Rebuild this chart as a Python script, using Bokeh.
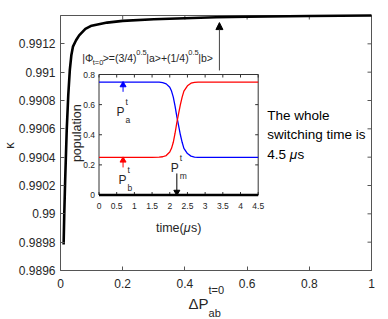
import numpy as np
from bokeh.plotting import figure
from bokeh.models import Range1d, Arrow, NormalHead, FixedTicker
from bokeh.embed import file_html
from bokeh.resources import INLINE
from bokeh.core.properties import value

# ---------------- data: main curve ----------------
delta_p = [0.01, 0.012, 0.015, 0.02, 0.025, 0.03, 0.035, 0.04, 0.05, 0.06,
           0.08, 0.1, 0.15, 0.2, 0.3, 0.4, 0.5, 0.6, 0.8, 1.0]
kappa = [0.989784, 0.989989, 0.990237, 0.990591, 0.990839, 0.991016, 0.991122,
         0.991180, 0.991225, 0.991260, 0.991305, 0.991328, 0.991350, 0.991362,
         0.991374, 0.991381, 0.991388, 0.991391, 0.991397, 0.991400]
x_ticks = [0, 0.2, 0.4, 0.6, 0.8, 1]
x_tick_labels = ["0", "0.2", "0.4", "0.6", "0.8", "1"]
y_ticks = [0.9896, 0.9898, 0.99, 0.9902, 0.9904, 0.9906, 0.9908, 0.991, 0.9912]
y_tick_labels = ["0.9896", "0.9898", "0.99", "0.9902", "0.9904", "0.9906",
                 "0.9908", "0.991", "0.9912"]
X_LIM = (0, 1)
Y_LIM = (0.9896, 0.9914)

# ---------------- data: inset ----------------
time_us = [0, 0.5, 1.0, 1.5, 1.7, 1.8, 1.9, 2.0, 2.05, 2.1, 2.15, 2.2, 2.25,
           2.3, 2.35, 2.4, 2.5, 2.6, 2.7, 2.8, 3.0, 3.5, 4.0, 4.5]
pop_a = [0.75, 0.75, 0.75, 0.75, 0.749, 0.746, 0.738, 0.715, 0.69, 0.65, 0.59,
         0.52, 0.46, 0.40, 0.35, 0.31, 0.275, 0.258, 0.252, 0.25, 0.25, 0.25,
         0.25, 0.25]
pop_b = [0.25, 0.25, 0.25, 0.25, 0.251, 0.254, 0.262, 0.285, 0.31, 0.35, 0.41,
         0.48, 0.54, 0.60, 0.65, 0.69, 0.725, 0.742, 0.748, 0.75, 0.75, 0.75,
         0.75, 0.75]
pop_m = [0.0] * len(time_us)
t_ticks = [0, 0.5, 1, 1.5, 2, 2.5, 3, 3.5, 4, 4.5]
t_tick_labels = ["0", "0.5", "1", "1.5", "2", "2.5", "3", "3.5", "4", "4.5"]
p_ticks = [0, 0.2, 0.4, 0.6, 0.8]
p_tick_labels = ["0", "0.2", "0.4", "0.6", "0.8"]

FONT = value("Liberation Sans")
TXT = "#262626"
AX = "#555555"

# canvas 388x319; the axes box spans pixels 60..371 (x) and 15..270 (y)
W, H = 388, 319
BOX_L, BOX_R, BOX_T, BOX_B = 60, 371, 15, 270
sx = (X_LIM[1] - X_LIM[0]) / (BOX_R - BOX_L)
sy = (Y_LIM[1] - Y_LIM[0]) / (BOX_B - BOX_T)
x_rng = Range1d(X_LIM[0] - BOX_L * sx, X_LIM[1] + (W - BOX_R) * sx)
y_rng = Range1d(Y_LIM[0] - (H - BOX_B) * sy, Y_LIM[1] + BOX_T * sy)

p = figure(width=W, height=H, x_range=x_rng, y_range=y_rng,
           output_backend="svg", toolbar_location=None,
           min_border=0, min_border_left=0, min_border_right=0,
           min_border_top=0, min_border_bottom=0)
p.grid.visible = False
p.outline_line_color = None
p.background_fill_color = "white"
p.border_fill_color = "white"

def style_axis(ax, ticks, labels, loc, bounds):
    ax.fixed_location = loc
    ax.bounds = bounds
    ax.ticker = FixedTicker(ticks=ticks)
    ax.major_label_overrides = {t: l for t, l in zip(ticks, labels)}
    ax.major_tick_in = 4
    ax.major_tick_out = 0
    ax.minor_tick_in = 0
    ax.minor_tick_out = 0
    ax.axis_line_color = AX
    ax.major_tick_line_color = AX
    ax.major_label_text_font = "Liberation Sans"
    ax.major_label_text_color = TXT
    ax.major_label_text_font_size = "12px"

style_axis(p.xaxis[0], x_ticks, x_tick_labels, Y_LIM[0], X_LIM)
p.xaxis[0].major_label_standoff = 8
style_axis(p.yaxis[0], y_ticks, y_tick_labels, X_LIM[0], Y_LIM)
p.yaxis[0].major_label_standoff = 5

# top and right edges of the box, with inward ticks
p.segment(x0=[X_LIM[0], X_LIM[1]], y0=[Y_LIM[1], Y_LIM[0]],
          x1=[X_LIM[1], X_LIM[1]], y1=[Y_LIM[1], Y_LIM[1]],
          line_color=AX, line_width=1)
nx, ny = len(x_ticks), len(y_ticks)
p.ray(x=x_ticks, y=[Y_LIM[1]] * nx, length=4, length_units="screen",
      angle=-np.pi / 2, line_color=AX, line_width=1)
p.ray(x=[X_LIM[1]] * ny, y=y_ticks, length=4, length_units="screen",
      angle=np.pi, line_color=AX, line_width=1)

# main curve
p.line(delta_p, kappa, line_color="black", line_width=2.6)

# axis labels (glyph text placed relative to the box)
p.text(x=[-51 * sx], y=[0.990482], text=["κ"], angle=np.pi / 2,
       text_align="center", text_baseline="middle", text_font=FONT,
       text_font_size="13px", text_color=TXT)
xl_x = 0.4116
p.text(x=[xl_x] * 3, y=[Y_LIM[0]] * 3, text=["ΔP", "t=0", "ab"],
       x_offset=[0, 20, 20], y_offset=[33, 19, 42],
       text_font_size=["15px", "11px", "11px"], text_align="left",
       text_baseline="alphabetic", text_font=FONT, text_color=TXT)

# state annotation
ann_parts = ["|Φ", "t=0", ">=(3/4)", "0.5", "|a>+(1/4)", "0.5", "|b>"]
ann_dx = [0, 10.5, 20.5, 54, 64, 106, 116]
ann_dy = [0, 4, 0, -6, 0, -6, 0]
ann_size = ["10.5px", "7.5px", "10.5px", "7.5px", "10.5px", "7.5px", "10.5px"]
p.text(x=[0.0698] * 7, y=[0.991097] * 7, text=ann_parts, x_offset=ann_dx,
       y_offset=ann_dy, text_font_size=ann_size, text_font=FONT,
       text_color=TXT, text_align="left", text_baseline="alphabetic")
p.add_layout(Arrow(end=NormalHead(size=7, fill_color="black", line_color="black"),
                   x_start=0.511, y_start=0.991012, x_end=0.511, y_end=0.991350,
                   line_color="#444444", line_width=1))

# switching time note (μ in italics, as in the original)
note = ["The whole", "switching time is", "4.5 ", "μ", "s"]
note_dx = [0, 0, 0, 22.5, 30.3]
note_dy = [0, 19.3, 38.6, 38.6, 38.6]
note_style = ["normal", "normal", "normal", "italic", "normal"]
p.text(x=[0.665] * 5, y=[0.990694] * 5, text=note, x_offset=note_dx,
       y_offset=note_dy, text_font_style=note_style,
       text_font=FONT, text_font_size="13.5px", text_color="black",
       text_align="left", text_baseline="alphabetic")

# ---------------- inset ----------------
tx_rng = Range1d(0, 4.5)
py_rng = Range1d(0, 0.8)
ins = p.subplot(x_source=tx_rng, y_source=py_rng,
                x_target=Range1d(0.1238, 0.6357),
                y_target=Range1d(0.9901329, 0.9909835))
ins.quad(left=[tx_rng.start], right=[tx_rng.end], bottom=[py_rng.start],
         top=[py_rng.end], fill_color="white", line_color="#333333",
         line_width=1)
nT, nP = len(t_ticks), len(p_ticks)
ins.ray(x=t_ticks, y=[py_rng.start] * nT, length=3, length_units="screen",
        angle=np.pi / 2, line_color="#333333", line_width=1)
ins.ray(x=t_ticks, y=[py_rng.end] * nT, length=3, length_units="screen",
        angle=-np.pi / 2, line_color="#333333", line_width=1)
ins.ray(x=[tx_rng.start] * nP, y=p_ticks, length=3, length_units="screen",
        angle=0, line_color="#333333", line_width=1)
ins.ray(x=[tx_rng.end] * nP, y=p_ticks, length=3, length_units="screen",
        angle=np.pi, line_color="#333333", line_width=1)
ins.text(x=t_ticks, y=[py_rng.start] * nT, text=t_tick_labels, y_offset=8,
         text_align="center", text_baseline="top", text_font=FONT,
         text_font_size="8.5px", text_color=TXT)
ins.text(x=[tx_rng.start] * nP, y=p_ticks, text=p_tick_labels, x_offset=-4,
         text_align="right", text_baseline="middle", text_font=FONT,
         text_font_size="8.5px", text_color=TXT)
xlab = ["time(", "μ", "s)"]
ins.text(x=[2.25] * 3, y=[0] * 3, text=xlab, x_offset=[-22.7, 5.1, 12.3],
         y_offset=33, text_font_style=["normal", "italic", "normal"],
         text_align="left", text_baseline="alphabetic", text_font=FONT,
         text_font_size="12.5px", text_color=TXT)
ins.text(x=[0], y=[0.41], text=["population"], x_offset=-22, angle=np.pi / 2,
         text_align="center", text_baseline="middle", text_font=FONT,
         text_font_size="12.5px", text_color=TXT)

ins.line(time_us, pop_a, line_color="#0000ff", line_width=1.3)
ins.line(time_us, pop_b, line_color="#ff0000", line_width=1.3)
ins.line(time_us, pop_m, line_color="black", line_width=2.6)

# arrows inside inset
arr_t = [0.68, 0.68, 2.2]
arr_from = [0.685, 0.183, 0.143]
arr_to = [0.75, 0.25, 0.0]
arr_col = ["#0000ff", "#ff0000", "black"]
ins.segment(x0=arr_t, y0=arr_from, x1=arr_t, y1=arr_to, line_color=arr_col,
            line_width=1)
ins.scatter(x=arr_t, y=[0.73, 0.23, 0.02], marker="triangle", size=6,
            angle=[0, 0, np.pi], fill_color=arr_col, line_color=arr_col)

lab_t = [0.495, 0.55, 2.03]
lab_y = [0.55, 0.097, 0.18]
lab_sub = ["a", "b", "m"]
ins.text(x=lab_t, y=lab_y, text=["P"] * 3, text_font=FONT,
         text_font_size="12px", text_color=TXT, text_baseline="alphabetic")
ins.text(x=lab_t, y=lab_y, text=["t"] * 3, x_offset=9, y_offset=-10,
         text_font=FONT, text_font_size="8.5px", text_color=TXT,
         text_baseline="alphabetic")
ins.text(x=lab_t, y=lab_y, text=lab_sub, x_offset=9, y_offset=8,
         text_font=FONT, text_font_size="8.5px", text_color=TXT,
         text_baseline="alphabetic")

open("out.html", "w").write(file_html(p, INLINE))
